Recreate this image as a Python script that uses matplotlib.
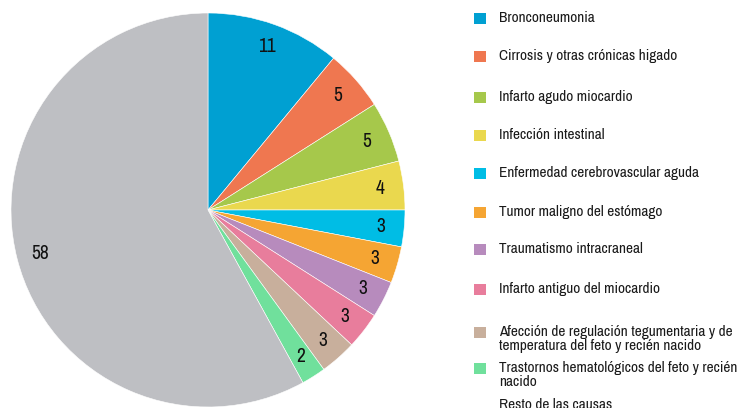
import matplotlib
matplotlib.use("Agg")
import matplotlib.pyplot as plt
from matplotlib.patches import Rectangle
from matplotlib import font_manager

names = sorted({f.name for f in font_manager.fontManager.ttflist})
narrow = [n for n in names if 'Narrow' in n or 'Condensed' in n or 'Cond' in n]
if narrow:
    fam = narrow[0]
    legsize = 11
else:
    fam = 'Liberation Sans'
    legsize = 9.5
plt.rcParams['font.family'] = [fam, 'DejaVu Sans']

categories = [
    "Bronconeumonia",
    "Cirrosis y otras crónicas higado",
    "Infarto agudo miocardio",
    "Infección intestinal",
    "Enfermedad cerebrovascular aguda",
    "Tumor maligno del estómago",
    "Traumatismo intracraneal",
    "Infarto antiguo del miocardio",
    "Afección de regulación tegumentaria y de\ntemperatura del feto y recién nacido",
    "Trastornos hematológicos del feto y recién\nnacido",
    "Resto de las causas",
]
values = [11, 5, 5, 4, 3, 3, 3, 3, 3, 2, 58]
colors = ["#00A0D2", "#EF7750", "#A6C84B", "#EAD84E", "#00BDE5", "#F5A533",
          "#B78BBD", "#E87D9C", "#C8AF9C", "#70E09C", "#BEBFC3"]

W, H = 743, 408
fig = plt.figure(figsize=(W / 100, H / 100), dpi=100)
ax = fig.add_axes([0, 0, 1, 1])
ax.set_xlim(0, W)
ax.set_ylim(0, H)
ax.set_aspect('equal')
ax.axis('off')

cx, cy, r = 208, H - 210, 197
wedges, texts = ax.pie(values, colors=colors, startangle=90, counterclock=False,
                       center=(cx, cy), radius=r, labels=[str(v) for v in values],
                       labeldistance=0.88,
                       wedgeprops=dict(edgecolor='white', linewidth=0.4),
                       textprops=dict(fontsize=14, color='#111111'))
for t in texts:
    t.set_ha('center')
    t.set_va('center')
ax.set_xlim(0, W)
ax.set_ylim(0, H)

# legend (manual)
marker_y = [18, 56, 97, 135, 173, 212, 249, 289, 332, 368, 416]
text_top = [11, 49, 90, 128, 166, 205, 242, 282, 325, 361, 398]
for lab, col, my, tt in zip(categories, colors, marker_y, text_top):
    ax.add_patch(Rectangle((474, H - my - 5.5), 12, 11, facecolor=col,
                           edgecolor='none', clip_on=True))
    ax.text(499, H - tt, lab, fontsize=legsize, color='#1a1a1a', ha='left',
            va='top', linespacing=1.0)

fig.savefig("out.png", dpi=100)
